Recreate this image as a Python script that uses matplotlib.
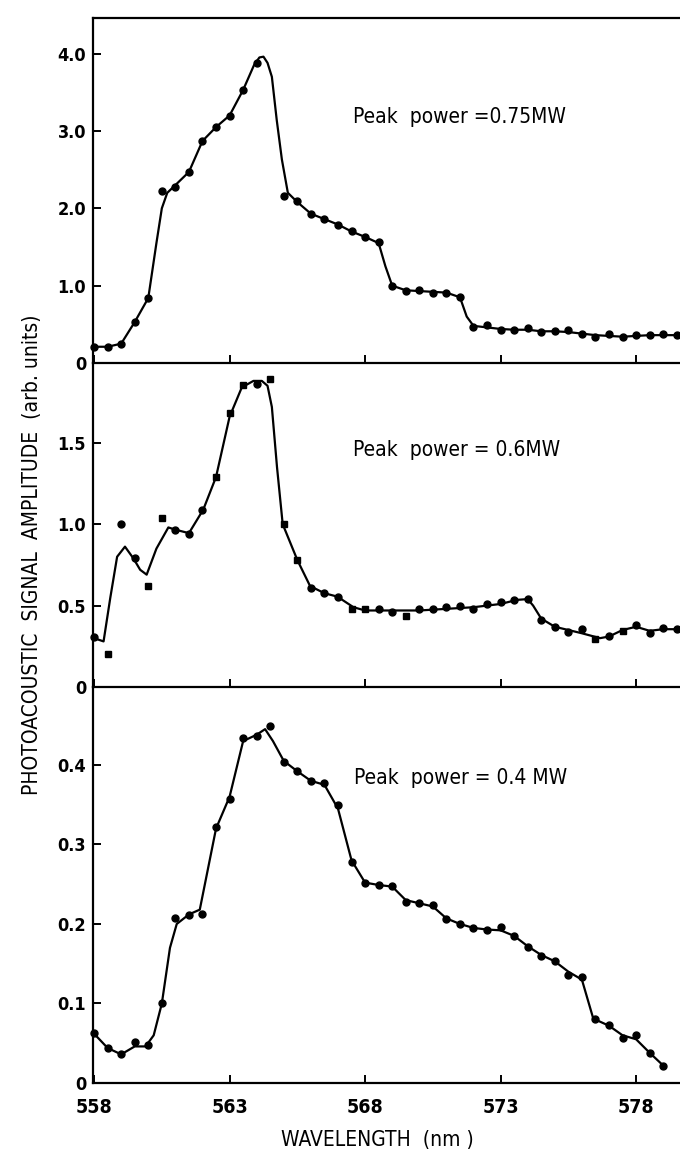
"""Photoacoustic signal spectra at three peak powers (three stacked panels)."""

import numpy as np
import matplotlib.pyplot as plt

# ---- data ----------------------------------------------------------------
wl = [558.0 + 0.5 * i for i in range(44)]  # 558.0 ... 579.5 nm

# panel 1: peak power 0.75 MW (no point measured at 564.5)
p1_x = [w for w in wl if w != 564.5]
p1_y = [0.21, 0.21, 0.25, 0.53, 0.84, 2.22, 2.28, 2.47, 2.87, 3.05, 3.19,
        3.53, 3.88, 2.16, 2.10, 1.93, 1.86, 1.79, 1.70, 1.63, 1.57, 0.99,
        0.93, 0.95, 0.91, 0.91, 0.85, 0.47, 0.49, 0.43, 0.43, 0.45, 0.40,
        0.42, 0.43, 0.38, 0.34, 0.37, 0.33, 0.36, 0.36, 0.38, 0.36]
p1_fit_x = [558.0, 558.5, 559.0, 559.5, 560.0, 560.3, 560.5, 560.7, 561.0,
            561.5, 562.0, 562.5, 563.0, 563.5, 563.9, 564.1, 564.25, 564.4,
            564.56, 564.74, 564.93, 565.15, 565.5, 566.0, 566.5, 567.0,
            567.5, 568.0, 568.5, 568.75, 569.0, 569.5, 570.0, 570.5, 571.0,
            571.5, 571.75, 572.0, 572.5, 573.0, 573.5, 574.0, 574.5, 575.0,
            575.5, 576.0, 576.5, 577.0, 577.5, 578.0, 578.5, 579.0, 579.5]
p1_fit_y = [0.21, 0.21, 0.25, 0.53, 0.84, 1.55, 2.0, 2.2, 2.3, 2.47, 2.87,
            3.05, 3.2, 3.53, 3.85, 3.95, 3.96, 3.88, 3.70, 3.14, 2.63, 2.2,
            2.08, 1.93, 1.86, 1.79, 1.70, 1.63, 1.55, 1.25, 1.0, 0.94, 0.93,
            0.92, 0.91, 0.85, 0.6, 0.48, 0.46, 0.44, 0.43, 0.43, 0.41, 0.41,
            0.40, 0.38, 0.36, 0.35, 0.34, 0.35, 0.36, 0.36, 0.36]

# panel 2: peak power 0.6 MW
p2_x = wl
p2_y = [0.305, 0.203, 1.0, 0.79, 0.62, 1.04, 0.965, 0.94, 1.09, 1.29, 1.68,
        1.856, 1.86, 1.89, 1.0, 0.78, 0.607, 0.576, 0.555, 0.48, 0.48, 0.48,
        0.463, 0.436, 0.477, 0.477, 0.49, 0.498, 0.48, 0.51, 0.524, 0.535,
        0.539, 0.41, 0.37, 0.34, 0.355, 0.293, 0.313, 0.346, 0.38, 0.33,
        0.36, 0.355]
p2_mk = ['o', 's', 'o', 'o', 's', 's', 'o', 'o', 'o', 's', 's',
         's', 'o', 's', 's', 's', 'o', 'o', 'o', 's', 's', 'o',
         'o', 's', 'o', 'o', 'o', 'o', 'o', 'o', 'o', 'o',
         'o', 'o', 'o', 'o', 'o', 's', 'o', 's', 'o', 'o',
         'o', 'o']
p2_fit_x = [558.0, 558.35, 558.6, 558.85, 559.14, 559.45, 559.7, 559.94,
            560.3, 560.74, 561.03, 561.5, 562.03, 562.5, 563.0, 563.45,
            563.88, 564.19, 564.4, 564.56, 564.75, 564.96, 565.5, 565.97,
            566.5, 566.98, 567.57, 568.0, 569.0, 570.0, 571.0, 572.0, 573.0,
            573.6, 574.0, 574.2, 574.5, 575.0, 575.5, 576.0, 576.67, 577.0,
            577.5, 578.0, 578.5, 579.0, 579.5]
p2_fit_y = [0.3, 0.28, 0.55, 0.80, 0.862, 0.79, 0.72, 0.69, 0.85, 0.98,
            0.965, 0.945, 1.09, 1.29, 1.66, 1.84, 1.88, 1.88, 1.85, 1.72,
            1.35, 1.0, 0.78, 0.62, 0.576, 0.555, 0.49, 0.47, 0.47, 0.47,
            0.48, 0.49, 0.51, 0.535, 0.54, 0.5, 0.42, 0.37, 0.35, 0.33,
            0.30, 0.31, 0.35, 0.37, 0.345, 0.355, 0.355]

# panel 3: peak power 0.4 MW (last point at 579.0)
p3_x = wl[:-1]
p3_y = [0.0625, 0.0436, 0.037, 0.052, 0.048, 0.100, 0.207, 0.211, 0.213,
        0.322, 0.357, 0.434, 0.436, 0.449, 0.404, 0.392, 0.38, 0.377, 0.350,
        0.278, 0.251, 0.249, 0.248, 0.227, 0.226, 0.224, 0.206, 0.200,
        0.195, 0.192, 0.196, 0.185, 0.171, 0.160, 0.154, 0.136, 0.133,
        0.081, 0.073, 0.057, 0.060, 0.038, 0.022]
p3_fit_x = [558.0, 558.5, 559.0, 559.5, 559.9, 560.2, 560.5, 560.8, 561.05,
            561.5, 561.9, 562.5, 563.0, 563.5, 564.0, 564.31, 564.6, 565.0,
            565.5, 566.0, 566.5, 567.0, 567.5, 568.0, 568.5, 569.0, 569.5,
            570.0, 570.5, 571.0, 571.5, 572.0, 572.5, 573.0, 573.5, 574.0,
            574.5, 575.0, 575.5, 576.0, 576.42, 577.0, 577.5, 578.0, 578.5,
            579.0]
p3_fit_y = [0.062, 0.044, 0.036, 0.046, 0.046, 0.06, 0.10, 0.17, 0.20,
            0.212, 0.218, 0.32, 0.36, 0.43, 0.438, 0.445, 0.43, 0.405, 0.392,
            0.38, 0.375, 0.345, 0.28, 0.252, 0.249, 0.247, 0.23, 0.226,
            0.222, 0.207, 0.200, 0.195, 0.193, 0.192, 0.185, 0.172, 0.161,
            0.153, 0.14, 0.13, 0.081, 0.072, 0.06, 0.055, 0.038, 0.022]

x_ticks = [558, 563, 568, 573, 578]
p1_ticks = [0, 1.0, 2.0, 3.0, 4.0]
p2_ticks = [0, 0.5, 1.0, 1.5]
p3_ticks = [0, 0.1, 0.2, 0.3, 0.4]
labels = ["Peak  power =0.75MW", "Peak  power = 0.6MW", "Peak  power = 0.4 MW"]
label_pos = [(567.55, 3.18), (567.55, 1.457), (567.6, 0.384)]

# ---- layout (pixel based) ------------------------------------------------
W, H = 680, 1155
fig = plt.figure(figsize=(W / 100, H / 100), dpi=100)
FONT = dict(family='DejaVu Sans', stretch='condensed')

left_px, right_px = 93, 680
panels_px = [(18, 363), (363, 687), (687, 1083)]
ylims = [4.46, 1.99, 0.498]
xlim = (557.96, 579.62)

axes = []
for (top, bot), ymax in zip(panels_px, ylims):
    ax = fig.add_axes([left_px / W, 1 - bot / H, (right_px - left_px) / W,
                       (bot - top) / H])
    ax.set_xlim(*xlim)
    ax.set_ylim(0, ymax)
    ax.spines['right'].set_visible(False)
    for s in ax.spines.values():
        s.set_linewidth(1.6)
    ax.set_xticks(x_ticks)
    ax.tick_params(direction='in', length=6, width=1.4, pad=5,
                   labelsize=13)
    ax.patch.set_alpha(0)
    axes.append(ax)

ax1, ax2, ax3 = axes
ax2.spines['top'].set_visible(False)
ax3.spines['top'].set_visible(False)

def fmt(v):
    return '0' if v == 0 else f'{v:.1f}'

for ax, ticks in zip(axes, [p1_ticks, p2_ticks, p3_ticks]):
    ax.set_yticks(ticks)
    ax.set_yticklabels([fmt(t) for t in ticks], fontweight='bold', **FONT)

ax1.tick_params(axis='x', labelbottom=False)
ax2.tick_params(axis='x', labelbottom=False)
ax3.tick_params(axis='x', pad=11)
ax3.set_xticklabels([str(t) for t in x_ticks], fontweight='bold', fontsize=14,
                    **FONT)

# ---- data ----------------------------------------------------------------
line_kw = dict(color='black', lw=1.6, clip_on=False, zorder=2)
mk_kw = dict(color='black', ms=5, ls='none', clip_on=False, zorder=3)

ax1.plot(p1_fit_x, p1_fit_y, **line_kw)
ax1.plot(p1_x, p1_y, marker='o', **mk_kw)

ax2.plot(p2_fit_x, p2_fit_y, **line_kw)
for m in ('o', 's'):
    xs = [x for x, k in zip(p2_x, p2_mk) if k == m]
    ys = [y for y, k in zip(p2_y, p2_mk) if k == m]
    ax2.plot(xs, ys, marker=m, **mk_kw)

ax3.plot(p3_fit_x, p3_fit_y, **line_kw)
ax3.plot(p3_x, p3_y, marker='o', **mk_kw)

for ax, txt, (tx, ty) in zip(axes, labels, label_pos):
    ax.text(tx, ty, txt, fontsize=15, va='center', ha='left', **FONT)

fig.text(32 / W, 1 - 555 / H,
         'PHOTOACOUSTIC  SIGNAL  AMPLITUDE  (arb. units)',
         rotation=90, ha='center', va='center', fontsize=15, **FONT)
fig.text(377 / W, 1 - 1140 / H, 'WAVELENGTH  (nm )', ha='center',
         va='center', fontsize=15, **FONT)

fig.savefig('out.png', dpi=100)
